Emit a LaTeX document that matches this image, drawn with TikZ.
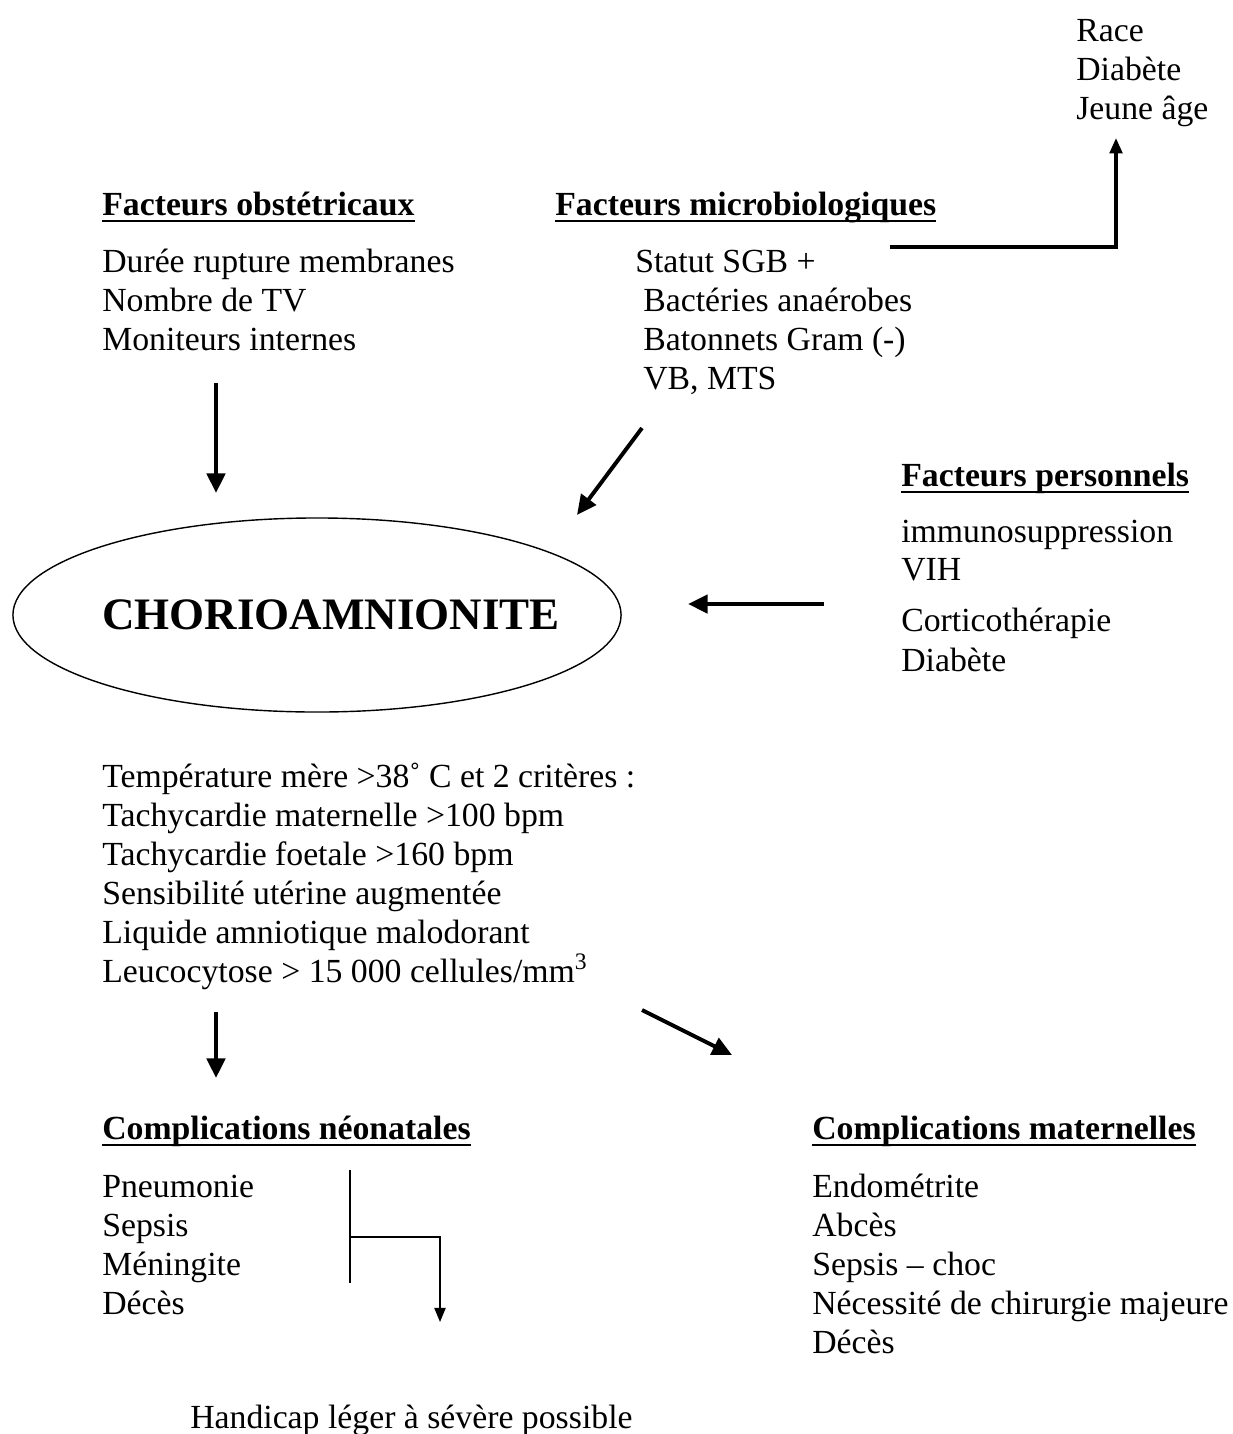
\documentclass[tikz,border=0pt]{standalone}
\usepackage{fontspec}
\setmainfont{Liberation Serif}
\usetikzlibrary{shapes.geometric,arrows.meta}

\tikzset{
  txt/.style={anchor=base west, inner sep=0pt, font=\fontsize{24}{28}\selectfont},
  titre/.style={txt, font=\fontsize{24}{28}\selectfont\bfseries},
  souligne/.style={line width=1.3pt},
  fleche/.style={line width=2.8pt, -{Triangle[length=14pt,width=13pt]}},
  petite/.style={line width=2.4pt, -{Triangle[length=11pt,width=9pt]}},
  fine/.style={line width=1pt},
}

\begin{document}
\begin{tikzpicture}[x=0.025cm, y=-0.025cm]
\useasboundingbox (0,0) rectangle (1232,1434);

% Facteurs de risque
\foreach \t [count=\i] in {Race, Diabète, Jeune âge}
  \node[txt] (race\i) at (1076, 2+39*\i) {\t};

\node[titre] (obst) at (102, 215) {Facteurs obstétricaux};
\foreach \t [count=\i] in {Durée rupture membranes, Nombre de TV, Moniteurs internes}
  \node[txt] (obst\i) at (102, 233+39*\i) {\t};

\node[titre] (micro) at (555, 215) {Facteurs microbiologiques};
\node[txt] (micro1) at (635, 272) {Statut SGB +};
\foreach \t [count=\i from 2] in {Bactéries anaérobes, Batonnets Gram (-), {VB, MTS}}
  \node[txt] (micro\i) at (643, 233+39*\i) {\t};

\node[titre] (perso) at (901, 486) {Facteurs personnels};
\node[txt] (perso1) at (901, 542) {immunosuppression};
\node[txt] (perso2) at (901, 580) {VIH};
\node[txt] (perso3) at (901, 631) {Corticothérapie};
\node[txt] (perso4) at (901, 671) {Diabète};

% Chorioamnionite
\node[draw, ellipse, line width=1pt, inner sep=0pt, minimum width=15.2cm,
  minimum height=4.85cm] (chorio) at (317, 615) {};
\node[font=\fontsize{32}{36}\selectfont\bfseries] (choriotxt) at (331, 615) {CHORIOAMNIONITE};

\foreach \t [count=\i] in {Température mère >38˚ C et 2 critères :,
    Tachycardie maternelle >100 bpm, Tachycardie foetale >160 bpm,
    Sensibilité utérine augmentée, Liquide amniotique malodorant,
    Leucocytose > 15 000 cellules/mm\textsuperscript{3}}
  \node[txt] (crit\i) at (102, 748+39*\i) {\t};

% Complications
\node[titre] (neo) at (102, 1139) {Complications néonatales};
\foreach \t [count=\i] in {Pneumonie, Sepsis, Méningite, Décès}
  \node[txt] (neo\i) at (102, 1158+39*\i) {\t};
\node[txt] (handicap) at (190, 1428) {Handicap léger à sévère possible};

\node[titre] (mat) at (812, 1139) {Complications maternelles};
\foreach \t [count=\i] in {Endométrite, Abcès, Sepsis – choc, Nécessité de chirurgie majeure, Décès}
  \node[txt] (mat\i) at (812, 1158+39*\i) {\t};

% Soulignements
\foreach \n in {obst, micro, perso, neo, mat}
  \draw[souligne] ([yshift=-4pt]\n.base west) -- ([yshift=-4pt]\n.base east);

% Fleches
\coordinate (ma) at (890, 247);
\coordinate (mb) at (1116, 247);
\coordinate (mc) at (1116, 138);
\draw[petite] (ma) -- (mb) -- (mc);

\coordinate (oa) at (216, 383);
\coordinate (ob) at (216, 493);
\draw[fleche] (oa) -- (ob);

\coordinate (ia) at (642, 428);
\coordinate (ib) at (577, 515);
\draw[fleche] (ia) -- (ib);

\coordinate (pa) at (824, 604);
\coordinate (pb) at (688, 604);
\draw[fleche] (pa) -- (pb);

\coordinate (na) at (216, 1012);
\coordinate (nb) at (216, 1078);
\draw[fleche] (na) -- (nb);

\coordinate (ca) at (642, 1010);
\coordinate (cb) at (732, 1055);
\draw[fleche] (ca) -- (cb);

% Accolade
\coordinate (ba) at (350, 1170);
\coordinate (bb) at (350, 1283);
\coordinate (bc) at (350, 1237);
\coordinate (bd) at (440, 1237);
\coordinate (be) at (440, 1322);
\draw[fine] (ba) -- (bb);
\draw[fine, -{Triangle[length=10pt,width=8pt]}] (bc) -- (bd) -- (be);

\end{tikzpicture}
\end{document}
